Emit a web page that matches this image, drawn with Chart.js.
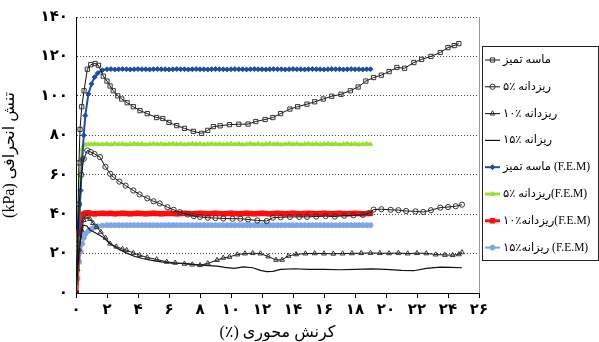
<!DOCTYPE html>
<html>
<head>
<meta charset="utf-8">
<script src="https://cdn.jsdelivr.net/npm/chart.js@4.4.1/dist/chart.umd.min.js"></script>
<style>
  body { margin: 0; background: #fff; }
  #wrap { width: 599px; height: 342px; }
</style>
</head>
<body>
<div id="wrap"><canvas id="chart" width="599" height="342" dir="rtl"></canvas></div>
<script>
const xTickLabels = ['۰', '۲', '۴', '۶', '۸', '۱۰', '۱۲', '۱۴', '۱۶', '۱۸', '۲۰', '۲۲', '۲۴', '۲۶'];
const yTickLabels = ['۰', '۲۰', '۴۰', '۶۰', '۸۰', '۱۰۰', '۱۲۰', '۱۴۰'];

const seriesNames = [
    'ماسه تمیز',
    'ریزدانه ٪۵',
    'ریزدانه ٪۱۰',
    'ریزانه ٪۱۵',
    '(F.E.M) ماسه تمیز',
    '(F.E.M)ریزدانه ٪۵',
    '(F.E.M)ریزدانه٪۱۰',
    '(F.E.M) ریزانه٪۱۵'
];

// آزمایش - ماسه تمیز
const cleanX = [0, 0.1, 0.19, 0.26, 0.37, 0.52, 0.73, 0.95, 1.23, 1.45, 1.76, 2.0, 2.2, 2.4, 2.7, 2.95, 3.3, 3.7, 4.13, 4.6,
    5.2, 5.6, 6.0, 6.5, 7.0, 7.57, 8.1, 8.5, 8.86, 9.3, 9.9, 10.5, 11.1, 11.6, 12.2, 12.7, 13.2, 13.8, 14.3, 14.9,
    15.4, 15.95, 16.5, 17.1, 17.7, 18.2, 18.7, 19.2, 19.7, 20.2, 20.7, 21.2, 21.8, 22.3, 22.9, 23.5, 24.0, 24.4, 24.7];
const cleanY = [0, 30, 66, 83, 94.5, 102.6, 113.5, 115.8, 116.4, 115.5, 110, 107.5, 105, 102.6, 100, 98.4, 96.5, 94.5, 92.5, 91,
    89, 88.5, 86.5, 84.9, 83.5, 82, 81, 82.5, 84.4, 84.8, 85.4, 85.6, 85.7, 87, 88, 89, 91, 93.3, 94.5, 95.8,
    97, 98.4, 99.8, 100.8, 102.6, 104.5, 107.5, 109.3, 110.5, 112.3, 114.4, 114, 116.9, 118.5, 120, 122, 124.5, 125.5, 126.5];

// آزمایش - ریزدانه ۵٪
const fine5X = [0, 0.1, 0.2, 0.35, 0.5, 0.73, 0.95, 1.2, 1.55, 1.9, 2.2, 2.4, 2.8, 3.2, 3.7, 4.1, 4.6, 5.0, 5.4, 5.9,
    6.3, 6.7, 7.2, 7.6, 8.0, 8.5, 9.0, 9.5, 10.1, 10.6, 11.1, 11.7, 12.3, 12.7, 13.2, 13.8, 14.4, 14.9, 15.5, 16.1,
    16.7, 17.3, 17.9, 18.5, 18.9, 19.2, 19.7, 20.3, 20.8, 21.3, 21.9, 22.4, 22.9, 23.5, 24.0, 24.5, 24.9];
const fine5Y = [0, 25, 45, 60, 68, 72.3, 71.5, 70.5, 68.9, 64, 60.5, 58.8, 56.5, 54.5, 52, 50, 48, 46.5, 45.4, 43.5,
    42.2, 41, 39.8, 39, 38.6, 38.2, 38, 37.8, 37.7, 37.7, 37.3, 36.8, 36.5, 38.2, 38.4, 38.6, 38.6, 38.6, 38.8, 39,
    38.8, 39.2, 39.4, 39.6, 40.5, 42.3, 42.5, 42.2, 42, 41.6, 41.4, 41.1, 42, 43.3, 43.6, 44, 44.8];

// آزمایش - ریزدانه ۱۰٪
const fine10X = [0, 0.1, 0.2, 0.35, 0.5, 0.69, 0.9, 1.1, 1.33, 1.6, 1.9, 2.2, 2.6, 3.0, 3.27, 3.7, 4.1, 4.6, 5.2, 5.85,
    6.4, 7.0, 7.5, 8.0, 8.5, 9.1, 9.5, 9.9, 10.4, 10.9, 11.4, 11.9, 12.4, 12.9, 13.3, 13.7, 14.2, 14.8, 15.4, 16,
    16.6, 17.2, 17.8, 18.4, 19, 19.6, 20.2, 20.8, 21.4, 22, 22.6, 23.2, 23.8, 24.3, 24.7, 24.9];
const fine10Y = [0, 12, 22, 32, 37, 38.6, 37.5, 35.5, 33.5, 31, 28, 25, 23.5, 22.3, 21.7, 20.3, 19.2, 18, 17, 15.8,
    15.3, 14.8, 14.4, 14.1, 15, 16.7, 17.8, 18.3, 19.5, 20, 20.2, 20, 18.5, 16.8, 16.8, 18.8, 19.6, 20, 20.1, 20,
    19.9, 20, 20.1, 20.2, 20.3, 20.2, 20.1, 20.3, 20, 20.2, 20.1, 19.5, 19.3, 19.2, 19.6, 20.6];

// آزمایش - ریزدانه ۱۵٪
const fine15X = [0, 0.1, 0.25, 0.47, 0.7, 0.9, 1.33, 1.8, 2.2, 2.7, 3.2, 3.8, 4.3, 4.8, 5.5, 6.2, 7.0, 7.6, 8.3, 9.1,
    9.6, 10.2, 10.8, 11.4, 11.9, 12.3, 12.7, 13.2, 14.1, 15, 16, 17, 18, 19, 20, 21, 21.8, 22.6, 23.5, 24.2, 24.9];
const fine15Y = [0, 12, 25, 34.4, 34, 32, 30.2, 28, 25, 22.5, 20.5, 18.5, 17.5, 16.7, 15.8, 15.2, 15, 14.5, 14, 13.6,
    13, 12.5, 13.2, 12.8, 11.5, 10.8, 11, 12, 12.3, 12, 12, 11.8, 12, 12.2, 12, 11.5, 11.3, 12.5, 13.1, 13, 12.8];

// مدل عددی (F.E.M)
const femX = [0, 0.1, 0.2, 0.3, 0.4, 0.5, 0.6, 0.8, 1.0, 1.2, 1.4, 1.7,
    2, 2.25, 2.5, 2.75, 3, 3.25, 3.5, 3.75, 4, 4.25, 4.5, 4.75, 5, 5.25, 5.5, 5.75,
    6, 6.25, 6.5, 6.75, 7, 7.25, 7.5, 7.75, 8, 8.25, 8.5, 8.75, 9, 9.25, 9.5, 9.75,
    10, 10.25, 10.5, 10.75, 11, 11.25, 11.5, 11.75, 12, 12.25, 12.5, 12.75, 13, 13.25, 13.5, 13.75,
    14, 14.25, 14.5, 14.75, 15, 15.25, 15.5, 15.75, 16, 16.25, 16.5, 16.75, 17, 17.25, 17.5, 17.75,
    18, 18.25, 18.5, 18.75, 19];
const femCleanY = [0, 17, 35, 52, 68, 80, 90, 101, 106, 109.5, 111.5, 113,
    113.5, 113.6, 113.4, 113.5, 113.6, 113.5, 113.4, 113.5, 113.6, 113.5, 113.5, 113.4, 113.5, 113.6, 113.5, 113.5,
    113.4, 113.5, 113.6, 113.5, 113.5, 113.4, 113.5, 113.6, 113.5, 113.5, 113.4, 113.5, 113.6, 113.5, 113.5, 113.4,
    113.5, 113.6, 113.5, 113.5, 113.4, 113.5, 113.6, 113.5, 113.5, 113.4, 113.5, 113.6, 113.5, 113.5, 113.4, 113.5,
    113.6, 113.5, 113.5, 113.4, 113.5, 113.6, 113.5, 113.5, 113.4, 113.5, 113.6, 113.5, 113.5, 113.4, 113.5, 113.6,
    113.5, 113.5, 113.4, 113.5, 113.5];
const fem5Y = [0, 20, 42, 62, 73, 75, 75.3, 75.5, 75.4, 75.6, 75.5, 75.4,
    75.6, 75.3, 75.7, 75.4, 75.6, 75.3, 75.5, 75.7, 75.4, 75.6, 75.3, 75.5, 75.7, 75.4, 75.6, 75.3,
    75.5, 75.7, 75.4, 75.6, 75.3, 75.5, 75.7, 75.4, 75.6, 75.3, 75.5, 75.7, 75.4, 75.6, 75.3, 75.5,
    75.7, 75.4, 75.6, 75.3, 75.5, 75.7, 75.4, 75.6, 75.3, 75.5, 75.7, 75.4, 75.6, 75.3, 75.5, 75.7,
    75.4, 75.6, 75.3, 75.5, 75.7, 75.4, 75.6, 75.3, 75.5, 75.7, 75.4, 75.6, 75.3, 75.5, 75.7, 75.4,
    75.6, 75.3, 75.5, 75.7, 75.4];
const fem10Y = [0, 20, 31, 37, 39.4, 40, 40.5, 40.6, 40.3, 40.2, 40.3, 40.4,
    40.3, 40.4, 40.2, 40.3, 40.4, 40.3, 40.2, 40.3, 40.4, 40.3, 40.2, 40.3, 40.4, 40.3, 40.2, 40.3,
    40.4, 40.3, 40.2, 40.3, 40.4, 40.3, 40.2, 40.3, 40.4, 40.3, 40.2, 40.3, 40.4, 40.3, 40.2, 40.3,
    40.4, 40.3, 40.2, 40.3, 40.4, 40.3, 40.2, 40.3, 40.4, 40.3, 40.2, 40.3, 40.4, 40.3, 40.2, 40.3,
    40.4, 40.3, 40.2, 40.3, 40.4, 40.3, 40.2, 40.3, 40.4, 40.3, 40.2, 40.3, 40.4, 40.3, 40.2, 40.3,
    40.4, 40.3, 40.2, 40.3, 40.4];
const fem15Y = [0, 7.4, 15.8, 21, 25, 28, 30, 31.5, 32.5, 33.3, 33.8, 34.2,
    34.4, 34.4, 34.4, 34.4, 34.4, 34.4, 34.4, 34.4, 34.4, 34.4, 34.4, 34.4, 34.4, 34.4, 34.4, 34.4,
    34.4, 34.4, 34.4, 34.4, 34.4, 34.4, 34.4, 34.4, 34.4, 34.4, 34.4, 34.4, 34.4, 34.4, 34.4, 34.4,
    34.4, 34.4, 34.4, 34.4, 34.4, 34.4, 34.4, 34.4, 34.4, 34.4, 34.4, 34.4, 34.4, 34.4, 34.4, 34.4,
    34.4, 34.4, 34.4, 34.4, 34.4, 34.4, 34.4, 34.4, 34.4, 34.4, 34.4, 34.4, 34.4, 34.4, 34.4, 34.4,
    34.4, 34.4, 34.4, 34.4, 34.4];

const FONT = '"Liberation Serif", "DejaVu Sans", serif';

function pts(xs, ys) {
    return xs.map((x, i) => ({ x: x, y: ys[i] }));
}

const datasets = [
    { label: seriesNames[0], data: pts(cleanX, cleanY), borderColor: '#111', borderWidth: 1,
      pointStyle: 'rect', pointRadius: 3, pointBorderColor: '#333', pointBackgroundColor: 'rgba(255,255,255,0)', pointBorderWidth: 1 },
    { label: seriesNames[1], data: pts(fine5X, fine5Y), borderColor: '#111', borderWidth: 1,
      pointStyle: 'circle', pointRadius: 2.6, pointBorderColor: '#333', pointBackgroundColor: 'rgba(255,255,255,0)', pointBorderWidth: 1 },
    { label: seriesNames[2], data: pts(fine10X, fine10Y), borderColor: '#111', borderWidth: 1,
      pointStyle: 'triangle', pointRadius: 2.8, pointBorderColor: '#333', pointBackgroundColor: 'rgba(255,255,255,0)', pointBorderWidth: 1 },
    { label: seriesNames[3], data: pts(fine15X, fine15Y), borderColor: '#111', borderWidth: 1.2,
      pointRadius: 0 },
    { label: seriesNames[4], data: pts(femX, femCleanY), borderColor: '#1f4ea6', borderWidth: 2,
      pointStyle: 'rectRot', pointRadius: 2.5, pointBorderColor: '#1f4ea6', pointBackgroundColor: '#1f4ea6', pointBorderWidth: 1 },
    { label: seriesNames[5], data: pts(femX, fem5Y), borderColor: '#98e02c', borderWidth: 3,
      pointStyle: 'triangle', pointRadius: 2.5, pointBorderColor: '#98e02c', pointBackgroundColor: '#98e02c', pointBorderWidth: 1 },
    { label: seriesNames[6], data: pts(femX, fem10Y), borderColor: '#ff0d0d', borderWidth: 5,
      pointStyle: 'rect', pointRadius: 3.2, pointBorderColor: '#ff0d0d', pointBackgroundColor: '#ff0d0d', pointBorderWidth: 1 },
    { label: seriesNames[7], data: pts(femX, fem15Y), borderColor: '#7ea6e6', borderWidth: 2,
      pointStyle: 'circle', pointRadius: 2.5, pointBorderColor: '#7ea6e6', pointBackgroundColor: '#7ea6e6', pointBorderWidth: 1 }
];

// legend box and plot border
const boxPlugin = {
    id: 'boxPlugin',
    afterDraw(chart) {
        const ctx = chart.ctx;
        const area = chart.chartArea;
        ctx.save();
        ctx.strokeStyle = '#9a9a9a';
        ctx.lineWidth = 1;
        ctx.beginPath();
        ctx.moveTo(Math.round(area.right) + 0.5, area.top);
        ctx.lineTo(Math.round(area.right) + 0.5, area.bottom);
        ctx.stroke();

        const left = 482, top = 46, w = 116, h = 214;
        ctx.fillStyle = '#fff';
        ctx.fillRect(left, top, w, h);
        ctx.strokeStyle = '#222';
        ctx.strokeRect(left + 0.5, top + 0.5, w, h);

        chart.data.datasets.forEach((ds, i) => {
            const y = 60 + i * 26.8;
            ctx.strokeStyle = ds.borderColor;
            ctx.lineWidth = Math.min(ds.borderWidth, 3);
            ctx.beginPath();
            ctx.moveTo(485, y);
            ctx.lineTo(500, y);
            ctx.stroke();
            if (ds.pointRadius > 0) {
                ctx.strokeStyle = ds.pointBorderColor;
                ctx.fillStyle = ds.pointBackgroundColor;
                ctx.lineWidth = 1;
                Chart.helpers.drawPoint(ctx, { pointStyle: ds.pointStyle, radius: ds.pointRadius, borderWidth: 1, rotation: 0 }, 492.5, y);
            }
            ctx.fillStyle = '#000';
            ctx.font = '11.5px ' + FONT;
            ctx.textAlign = 'left';
            ctx.textBaseline = 'middle';
            ctx.fillText(ds.label, 503, y, 93);
        });
        ctx.restore();
    }
};

new Chart(document.getElementById('chart'), {
    type: 'line',
    data: { datasets: datasets },
    options: {
        responsive: false,
        animation: false,
        layout: { padding: { top: 16, right: 120, left: 0, bottom: 0 } },
        plugins: { legend: { display: false }, tooltip: { enabled: false } },
        scales: {
            x: {
                type: 'linear',
                min: 0, max: 26,
                afterFit: s => { s.height = 49; },
                ticks: { stepSize: 2, color: '#000', padding: 3, maxRotation: 0,
                         font: { family: FONT, size: 15, weight: 'bold' },
                         callback: (v, i) => xTickLabels[i] },
                grid: { drawOnChartArea: false, drawTicks: true, tickLength: 5, color: '#000' },
                border: { color: '#000', width: 1 },
                title: { display: true, text: 'کرنش محوری (٪)', color: '#000', padding: { top: 0, bottom: 0 },
                         font: { family: FONT, size: 16 } }
            },
            y: {
                min: 0, max: 140,
                afterFit: s => { s.width = 76; },
                ticks: { stepSize: 20, color: '#000', padding: 8,
                         font: { family: FONT, size: 15, weight: 'bold' },
                         callback: (v, i) => yTickLabels[i] },
                grid: { color: '#444', lineWidth: 1, drawTicks: false, tickLength: 0 },
                border: { color: '#000', width: 1, dash: [1, 2] },
                title: { display: true, text: 'تنش انحرافی (kPa)', color: '#000', padding: { top: 0, bottom: 4 },
                         font: { family: FONT, size: 16 } }
            }
        }
    },
    plugins: [boxPlugin]
});
</script>
</body>
</html>
